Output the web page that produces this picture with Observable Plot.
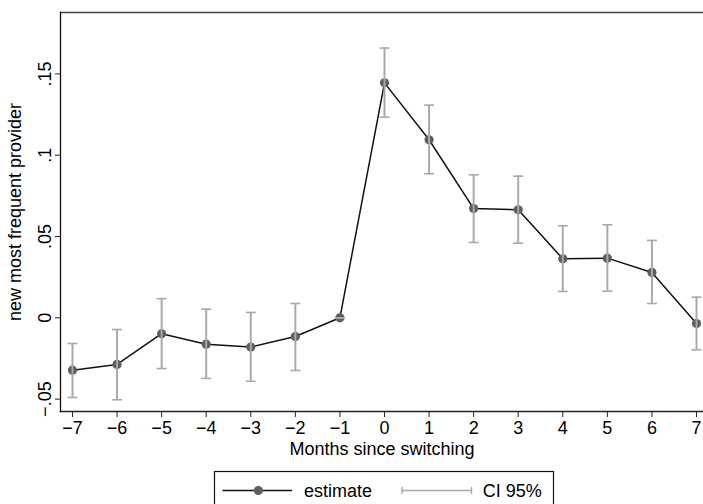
<!DOCTYPE html>
<html>
<head>
<meta charset="utf-8">
<script src="https://cdn.jsdelivr.net/npm/d3@7"></script>
<script src="https://cdn.jsdelivr.net/npm/@observablehq/plot@0.6"></script>
<style>
  html, body { margin: 0; padding: 0; background: #fff; }
  #chart svg { display: block; }
  #legend { display: block; }
</style>
</head>
<body>
<div id="chart"></div>
<script>
const months = [-7, -6, -5, -4, -3, -2, -1, 0, 1, 2, 3, 4, 5, 6, 7];
const estimate = [-0.0322, -0.0287, -0.0098, -0.0162, -0.0180, -0.0115, 0, 0.1445, 0.1095, 0.0672, 0.0664, 0.0363, 0.0367, 0.0279, -0.0035];
const ciLow = [-0.0490, -0.0504, -0.0312, -0.0373, -0.0390, -0.0324, 0, 0.1234, 0.0886, 0.0463, 0.0459, 0.0162, 0.0164, 0.0088, -0.0197];
const ciHigh = [-0.0158, -0.0072, 0.0118, 0.0053, 0.0033, 0.0088, 0, 0.1659, 0.1308, 0.0879, 0.0871, 0.0566, 0.0572, 0.0476, 0.0127];
const yTicks = [-0.05, 0, 0.05, 0.1, 0.15];
const yTickLabels = ["\u2212.05", "0", ".05", ".1", ".15"];
const xLabel = "Months since switching";
const yLabel = "new most frequent provider";
const legendLabels = ["estimate", "CI 95%"];

const data = months.map((m, i) => ({m, est: estimate[i], lo: ciLow[i], hi: ciHigh[i]}));

const FONT = "'Liberation Sans', Arial, Helvetica, sans-serif";
const ciColor = "#a9a9a9";
const dotColor = "#5e5e5e";
const lineColor = "#111";

const capSymbol = {
  draw(context, size) {
    context.moveTo(-5, 0);
    context.lineTo(5, 0);
  }
};

const plot = Plot.plot({
  width: 703,
  height: 462,
  marginLeft: 60,
  marginRight: 0,
  marginTop: 12,
  marginBottom: 51,
  style: {fontFamily: FONT, fontSize: "18px", color: "#000", background: "#fff", overflow: "visible"},
  x: {domain: [-7.269, 7.157]},
  y: {domain: [-0.05762, 0.18776]},
  marks: [
    Plot.frame({anchor: "top", stroke: "#444", strokeWidth: 1.3}),
    Plot.frame({anchor: "left", stroke: "#111", strokeWidth: 1.3}),
    Plot.frame({anchor: "bottom", stroke: "#222", strokeWidth: 1.6}),
    Plot.axisX({
      ticks: months,
      tickSize: 6,
      tickPadding: 4,
      stroke: "#222",
      tickFormat: d => d < 0 ? "\u2212" + Math.abs(d) : String(d),
      label: xLabel,
      labelAnchor: "center",
      labelArrow: "none",
      labelOffset: 43
    }),
    Plot.axisY({
      ticks: yTicks,
      tickSize: 5,
      tickPadding: 5,
      stroke: "#222",
      tickRotate: -90,
      tickFormat: d => yTickLabels[yTicks.indexOf(d)],
      label: null
    }),
    Plot.axisY({
      ticks: [],
      tickSize: 0,
      label: yLabel,
      labelAnchor: "center",
      labelArrow: "none",
      labelOffset: 52,
      dy: 5
    }),
    Plot.line(data, {x: "m", y: "est", stroke: lineColor, strokeWidth: 1.5}),
    Plot.dot(data, {x: "m", y: "est", r: 4.6, fill: dotColor, stroke: "none"}),
    Plot.ruleX(data, {x: "m", y1: "lo", y2: "hi", stroke: ciColor, strokeWidth: 2}),
    Plot.dot(data, {x: "m", y: "lo", symbol: capSymbol, fill: "none", stroke: ciColor, strokeWidth: 1.6}),
    Plot.dot(data, {x: "m", y: "hi", symbol: capSymbol, fill: "none", stroke: ciColor, strokeWidth: 1.6})
  ]
});
document.getElementById("chart").appendChild(plot);

// Legend below the chart
const W = 703, LH = 42;
const leg = d3.create("svg")
  .attr("id", "legend")
  .attr("width", W).attr("height", LH)
  .style("font-family", FONT).style("font-size", "18px");
leg.append("rect")
  .attr("x", 214.5).attr("y", 9.5).attr("width", 339).attr("height", 50)
  .attr("fill", "#fff").attr("stroke", "#111").attr("stroke-width", 1.2);
leg.append("line").attr("x1", 222.5).attr("x2", 292).attr("y1", 28.5).attr("y2", 28.5)
  .attr("stroke", lineColor).attr("stroke-width", 1.5);
leg.append("circle").attr("cx", 258.3).attr("cy", 28.5).attr("r", 4.6).attr("fill", dotColor);
leg.append("text").attr("x", 304).attr("y", 34.5).text(legendLabels[0]);
leg.append("line").attr("x1", 401.7).attr("x2", 471.7).attr("y1", 28.5).attr("y2", 28.5)
  .attr("stroke", ciColor).attr("stroke-width", 1.6);
for (const x of [402, 471.5]) {
  leg.append("line").attr("x1", x).attr("x2", x).attr("y1", 25).attr("y2", 32)
    .attr("stroke", ciColor).attr("stroke-width", 1.4);
}
leg.append("text").attr("x", 482.7).attr("y", 34.5).text(legendLabels[1]);
document.getElementById("chart").appendChild(leg.node());
</script>
</body>
</html>
